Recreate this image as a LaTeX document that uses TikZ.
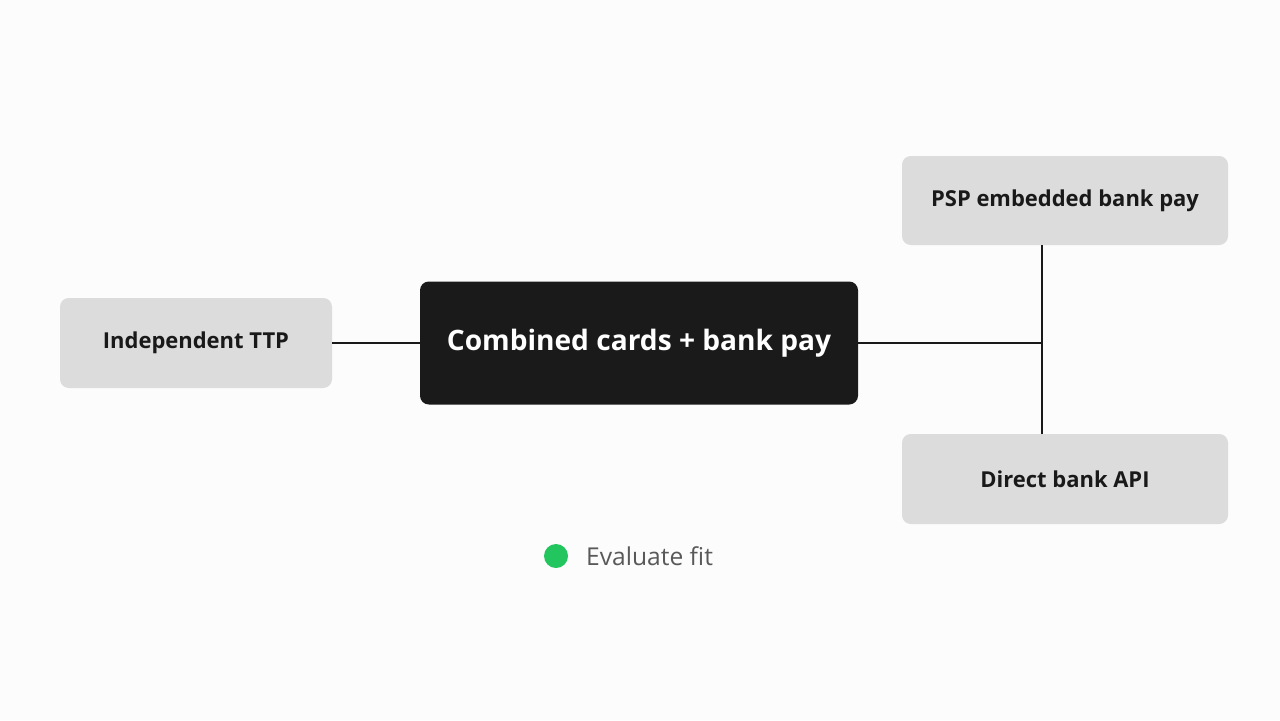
\documentclass[tikz,border=0pt]{standalone}
\usepackage{fontspec}
\setmainfont{Open Sans}
\begin{document}
\begin{tikzpicture}[x=0.02cm,y=-0.02cm,
 box/.style={draw=none,fill=boxgray,rounded corners=5pt,font=\fontsize{12.5}{15}\selectfont\bfseries,text=black!90},
 ln/.style={line width=1.2pt,black!90}]
\definecolor{boxgray}{HTML}{DCDCDC}
\definecolor{dark}{HTML}{1A1A1A}
\definecolor{grn}{HTML}{22C55E}
\fill[white!98!gray] (0,0) rectangle (1280,720);
\useasboundingbox (0,0) rectangle (1280,720);
\node[box,minimum width=272*0.02cm,minimum height=90*0.02cm] (ttp) at (196,343) {Independent TTP};
\node[box,fill=dark,text=white,minimum width=438*0.02cm,minimum height=123*0.02cm,font=\fontsize{16}{19}\selectfont\bfseries] (comb) at (639,343) {Combined cards + bank pay};
\node[box,minimum width=326*0.02cm,minimum height=89*0.02cm] (psp) at (1065,200.5) {PSP embedded bank pay};
\node[box,minimum width=326*0.02cm,minimum height=90*0.02cm] (dir) at (1065,479) {Direct bank API};
\coordinate (j) at (1042,343);
\coordinate (pb) at (1042,245);
\coordinate (dt) at (1042,434);
\draw[ln] (ttp.east) -- (comb.west);
\draw[ln] (comb.east) -- (j);
\draw[ln] (pb) -- (dt);
\fill[grn] (556,556) circle (12);
\node[anchor=west,text=black!65,font=\fontsize{14}{17}\selectfont] (ev) at (580,556) {Evaluate fit};
\end{tikzpicture}
\end{document}
